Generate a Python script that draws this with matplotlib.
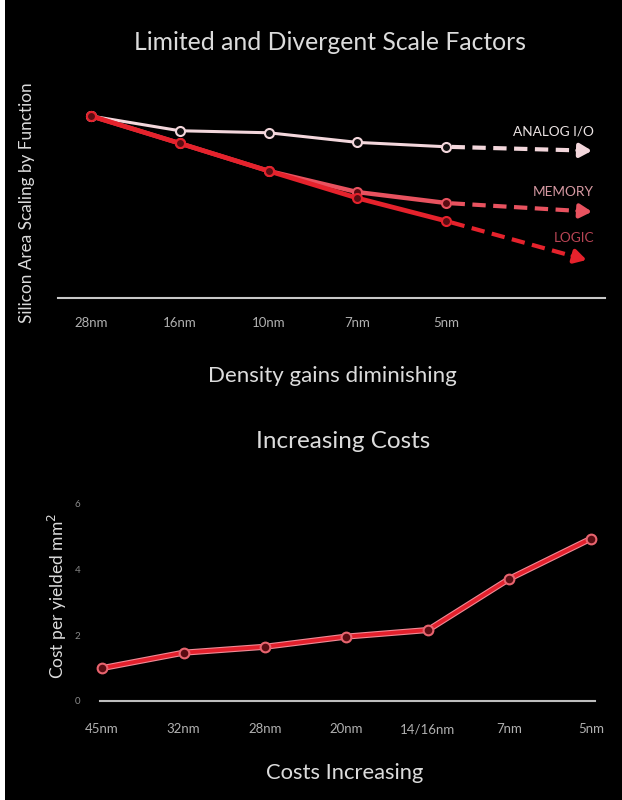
import matplotlib
matplotlib.use("Agg")
import matplotlib.pyplot as plt
from matplotlib.patches import Rectangle

# ---------------- data ----------------
top_nodes = ["28nm", "16nm", "10nm", "7nm", "5nm"]
analog = [1.0, 0.919, 0.908, 0.855, 0.831]
memory = [1.0, 0.850, 0.698, 0.582, 0.522]
logic = [1.0, 0.850, 0.698, 0.549, 0.423]
# projected end points of the dashed arrows (x in category units, value)
proj_x = [5.64, 5.64, 5.58]
proj_vals = [0.809, 0.474, 0.209]
series_names = ["ANALOG I/O", "MEMORY", "LOGIC"]

cost_nodes = ["45nm", "32nm", "28nm", "20nm", "14/16nm", "7nm", "5nm"]
cost_vals = [1.0, 1.47, 1.65, 1.96, 2.16, 3.72, 4.94]
cost_ticks = [0, 2, 4, 6]

# ---------------- style ----------------
W, H = 622, 800
plt.rcParams['font.family'] = ['Lato', 'DejaVu Sans']
fig = plt.figure(figsize=(W / 100, H / 100), dpi=100, facecolor='black')

def fx(px):
    return px / W

def fy(py):
    return 1 - py / H

# thin white strip on the left edge
fig.add_artist(Rectangle((0, 0), fx(5), 1, transform=fig.transFigure,
                         facecolor='white', edgecolor='none', zorder=10))

title_c = '#dcdcdc'
tick_c = '#b0b0b0'
line_colors = ['#f3d7dc', '#e8525f', '#e5222c']
line_widths = [2.2, 3.2, 3.4]
label_colors = ['#ece4e4', '#d79aa3', '#b84454']

# ---------------- top chart ----------------
ax1 = fig.add_axes([fx(58), fy(298), fx(605) - fx(58), fy(100) - fy(298)])
ax1.set_facecolor('black')
x_top = list(range(len(top_nodes)))
ax1.set_xlim(-0.371, 5.787)
ax1.set_ylim(0, 1.088)
for s in ['top', 'right', 'left']:
    ax1.spines[s].set_visible(False)
ax1.spines['bottom'].set_color('#c8c8c8')
ax1.spines['bottom'].set_linewidth(1.5)
ax1.set_yticks([])
ax1.set_xticks(x_top)
ax1.set_xticklabels(top_nodes, color=tick_c, fontsize=9.5)
ax1.tick_params(axis='x', length=0, pad=14)

all_series = [analog, memory, logic]
order = [0, 1, 2]
for i in order:
    vals = all_series[i]
    col = line_colors[i]
    face = '#111111' if i == 0 else '#5a0c12'
    ax1.plot(x_top, vals, color=col, lw=line_widths[i], marker='o', ms=6.5,
             mfc=face, mec=col, mew=1.5, zorder=3 + i, clip_on=False)
    # dashed projection
    x0, y0 = x_top[-1], vals[-1]
    x1, y1 = proj_x[i], proj_vals[i]
    xe = x0 + 0.9 * (x1 - x0)
    ye = y0 + 0.9 * (y1 - y0)
    ax1.plot([x0 + 0.06, xe], [y0 + 0.06 * (y1 - y0) / (x1 - x0), ye], color=col,
             lw=3.0, ls=(0, (3.2, 1.8)), zorder=2, solid_capstyle='butt')
    ax1.annotate('', xy=(x1, y1), xytext=(xe, ye),
                 arrowprops=dict(arrowstyle='-|>,head_length=0.7,head_width=0.4',
                                 color=col, lw=3.0, shrinkA=0, shrinkB=0),
                 zorder=2)

label_y = [132, 192, 238]
for i, name in enumerate(series_names):
    fig.text(fx(594), fy(label_y[i]), name, color=label_colors[i], fontsize=9.8,
             ha='right', va='center')

fig.text(fx(330), fy(42), "Limited and Divergent Scale Factors", color=title_c,
         fontsize=17.8, ha='center', va='center')
fig.text(fx(27), fy(203), "Silicon Area Scaling by Function", color=title_c,
         fontsize=12.3, ha='center', va='center', rotation=90)
fig.text(fx(332), fy(376), "Density gains diminishing", color=title_c,
         fontsize=16, ha='center', va='center')

# ---------------- bottom chart ----------------
ax2 = fig.add_axes([fx(100), fy(701), fx(595) - fx(100), fy(490) - fy(701)])
ax2.set_facecolor('black')
x_cost = list(range(len(cost_nodes)))
ax2.set_xlim(-0.025, 6.05)
ax2.set_ylim(0, 6.42)
for s in ['top', 'right', 'left']:
    ax2.spines[s].set_visible(False)
ax2.spines['bottom'].set_color('#bdbdbd')
ax2.spines['bottom'].set_linewidth(1.5)
ax2.set_xticks(x_cost)
ax2.set_xticklabels(cost_nodes, color=tick_c, fontsize=9.5)
ax2.tick_params(axis='x', length=0, pad=16)
ax2.set_yticks(cost_ticks)
ax2.set_yticklabels([str(t) for t in cost_ticks], color='#8a8a8a', fontsize=7)
ax2.tick_params(axis='y', length=0, pad=14)

ax2.plot(x_cost, cost_vals, color='#f08a96', lw=4.4, zorder=2, clip_on=False)
ax2.plot(x_cost, cost_vals, color='#e3202c', lw=2.8, marker='o', ms=7,
         mfc='#5a0c12', mec='#e8646f', mew=1.5, zorder=3, clip_on=False)

fig.text(fx(343), fy(441), "Increasing Costs", color=title_c,
         fontsize=17.5, ha='center', va='center')
fig.text(fx(57), fy(596), "Cost per yielded mm$^2$", color=title_c,
         fontsize=12.5, ha='center', va='center', rotation=90)
fig.text(fx(345), fy(773), "Costs Increasing", color=title_c,
         fontsize=15.8, ha='center', va='center')

fig.savefig("out.png", dpi=100, facecolor='black')
